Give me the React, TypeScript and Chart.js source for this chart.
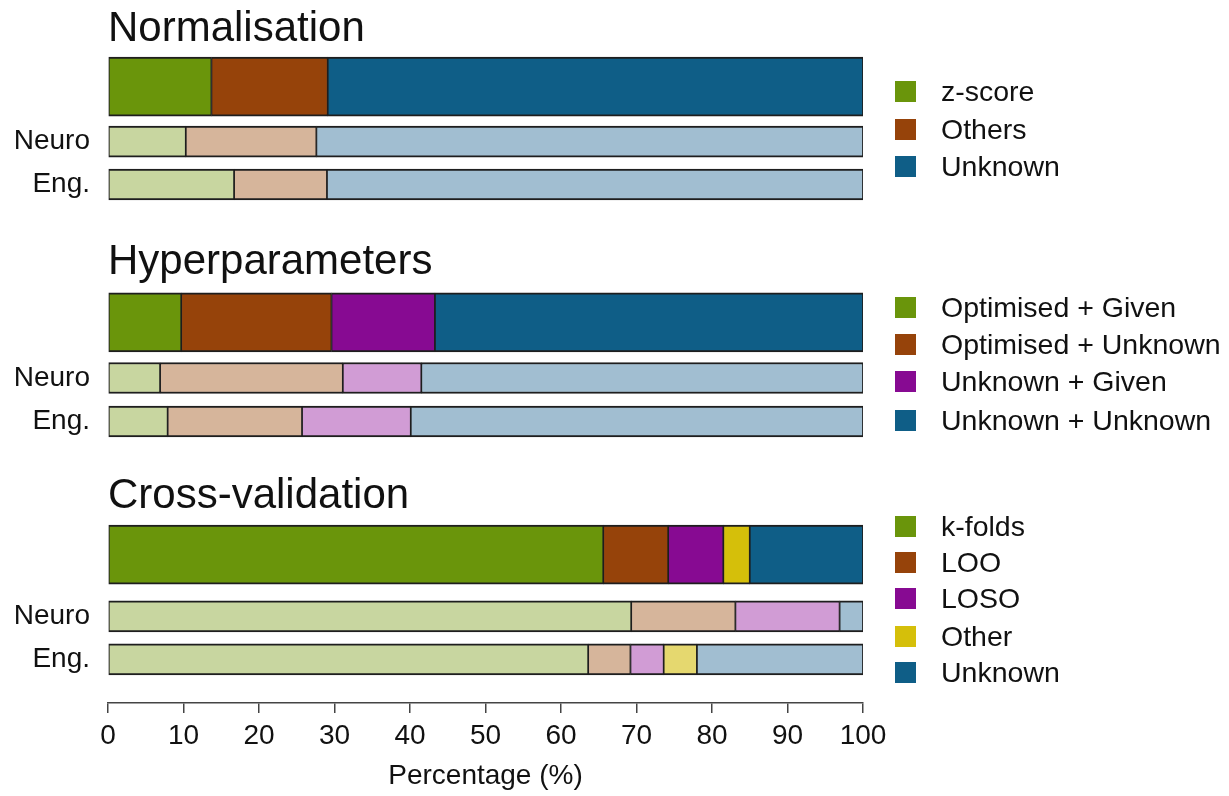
import React, { useEffect, useRef } from 'react';
import { Chart, registerables } from 'chart.js';

Chart.register(...registerables);

// ---------- data ----------
const ROW_LABELS = ['', 'Neuro', 'Eng.'];

const NORM_CATEGORIES = ['z-score', 'Others', 'Unknown'];
const NORM_ALL = [13.7, 15.4, 70.9];
const NORM_NEURO = [10.3, 17.3, 72.4];
const NORM_ENG = [16.7, 12.3, 71.0];

const HYPER_CATEGORIES = ['Optimised + Given', 'Optimised + Unknown', 'Unknown + Given', 'Unknown + Unknown'];
const HYPER_ALL = [9.7, 19.9, 13.7, 56.7];
const HYPER_NEURO = [6.9, 24.2, 10.4, 58.5];
const HYPER_ENG = [7.9, 17.8, 14.4, 59.9];

const CV_CATEGORIES = ['k-folds', 'LOO', 'LOSO', 'Other', 'Unknown'];
const CV_ALL = [65.6, 8.6, 7.3, 3.5, 15.0];
const CV_NEURO = [69.3, 13.8, 13.8, 0, 3.1];
const CV_ENG = [63.6, 5.6, 4.4, 4.4, 22.0];

const X_TICKS = [0, 10, 20, 30, 40, 50, 60, 70, 80, 90, 100];
const X_TITLE = 'Percentage (%)';

// ---------- styles ----------
const FONT = '"Liberation Sans", Arial, Helvetica, sans-serif';
const GREEN = '#6A950B', BROWN = '#96430A', PURPLE = '#870A92', YELLOW = '#D5BF0A', BLUE = '#0F5E87';
const L_GREEN = '#C8D6A0', L_BROWN = '#D6B59B', L_PURPLE = '#D19CD5', L_YELLOW = '#E5D86F', L_BLUE = '#A1BED1';

const PANELS = [
  { title: 'Normalisation', cats: NORM_CATEGORIES, all: NORM_ALL, neuro: NORM_NEURO, eng: NORM_ENG,
    dark: [GREEN, BROWN, BLUE], light: [L_GREEN, L_BROWN, L_BLUE] },
  { title: 'Hyperparameters', cats: HYPER_CATEGORIES, all: HYPER_ALL, neuro: HYPER_NEURO, eng: HYPER_ENG,
    dark: [GREEN, BROWN, PURPLE, BLUE], light: [L_GREEN, L_BROWN, L_PURPLE, L_BLUE] },
  { title: 'Cross-validation', cats: CV_CATEGORIES, all: CV_ALL, neuro: CV_NEURO, eng: CV_ENG,
    dark: [GREEN, BROWN, PURPLE, YELLOW, BLUE], light: [L_GREEN, L_BROWN, L_PURPLE, L_YELLOW, L_BLUE] },
];

// layout (row positions on the y scale, in px from the top of the plot area)
const ROW_POS = [
  [86.7, 141.7, 184.5],
  [322.3, 378, 421.5],
  [554.7, 616.3, 659.3],
];
const TITLE_BASELINE = [42, 275, 509];
const LEGEND_CENTERS = [
  [91, 129, 166],
  [307, 344, 381, 420],
  [526, 562, 598, 636, 672],
];
const PLOT_BOTTOM = 703;
const CANVAS_W = 900;
const CANVAS_H = 796;

export default function App() {
  const ref = useRef<HTMLCanvasElement>(null);

  useEffect(() => {
    const canvas = ref.current;
    if (!canvas) return;
    const datasets: any[] = [];
    const labelMap: Record<string, string> = {};
    const subTicks: number[] = [];
    PANELS.forEach((p, pi) => {
      const rows = ROW_POS[pi];
      labelMap[String(rows[1])] = ROW_LABELS[1];
      labelMap[String(rows[2])] = ROW_LABELS[2];
      subTicks.push(rows[1], rows[2]);
      p.cats.forEach((c, k) => {
        datasets.push({
          label: c,
          data: [{ x: p.all[k], y: rows[0] }],
          backgroundColor: p.dark[k],
          barThickness: 59,
        });
        const sub = [
          { x: p.neuro[k], y: rows[1] },
          { x: p.eng[k], y: rows[2] },
        ].filter((d) => d.x > 0);
        datasets.push({
          label: c + ' (by field)',
          data: sub,
          backgroundColor: p.light[k],
          barThickness: 31,
        });
      });
    });

    const chart = new Chart(canvas, {
      type: 'bar',
      data: { datasets },
      options: {
        indexAxis: 'y',
        responsive: false,
        animation: false,
        devicePixelRatio: 1,
        layout: { padding: { left: 0, right: CANVAS_W - 863, top: 0, bottom: 0 } },
        datasets: {
          bar: {
            borderColor: '#1E1E1E',
            borderWidth: { top: 2, bottom: 2, left: 1.2, right: 1.2 },
            borderSkipped: false,
          },
        },
        plugins: {
          legend: { display: false },
          tooltip: { enabled: false },
          title: { display: false },
        },
        scales: {
          x: {
            type: 'linear',
            stacked: true,
            min: 0,
            max: 100,
            offset: false,
            afterBuildTicks: (scale: any) => {
              scale.ticks = X_TICKS.map((v) => ({ value: v }));
            },
            afterFit: (scale: any) => {
              scale.height = CANVAS_H - PLOT_BOTTOM;
              scale.paddingLeft = 0;
              scale.paddingRight = 0;
            },
            grid: {
              drawOnChartArea: false,
              drawTicks: true,
              tickLength: 10,
              color: '#444',
              lineWidth: 1.5,
            },
            border: { display: true, color: '#444', width: 1.5 },
            ticks: {
              color: '#111',
              font: { family: FONT, size: 28 },
              padding: 6,
              maxRotation: 0,
              autoSkip: false,
            },
            title: {
              display: true,
              text: X_TITLE,
              color: '#111',
              font: { family: FONT, size: 28 },
              padding: { top: 0, bottom: 3 },
            },
          },
          y: {
            type: 'linear',
            stacked: true,
            reverse: true,
            offset: false,
            min: 0,
            max: PLOT_BOTTOM,
            afterBuildTicks: (scale: any) => {
              scale.ticks = subTicks.map((v) => ({ value: v }));
            },
            afterFit: (scale: any) => {
              scale.width = 108;
              scale.paddingTop = 0;
              scale.paddingBottom = 0;
            },
            grid: { display: false, drawTicks: false },
            border: { display: false },
            ticks: {
              color: '#111',
              font: { family: FONT, size: 28 },
              padding: 18,
              autoSkip: false,
              callback: (v: any) => labelMap[String(v)] ?? '',
            },
          },
        },
      },
    });
    return () => chart.destroy();
  }, []);

  return (
    <div style={{ position: 'absolute', left: 0, top: 0, width: 1229, height: 796, background: '#fff', fontFamily: FONT, color: '#111' }}>
      <canvas ref={ref} width={CANVAS_W} height={CANVAS_H} style={{ position: 'absolute', left: 0, top: 0 }} />
      {PANELS.map((p, pi) => (
        <div key={p.title}
          style={{ position: 'absolute', left: 108, top: TITLE_BASELINE[pi] - 35.6, fontSize: 42, lineHeight: '42px', whiteSpace: 'nowrap' }}>
          {p.title}
        </div>
      ))}
      {PANELS.map((p, pi) =>
        p.cats.map((c, k) => (
          <div key={p.title + c}
            style={{ position: 'absolute', left: 895, top: LEGEND_CENTERS[pi][k] - 14, height: 28, display: 'flex', alignItems: 'center', whiteSpace: 'nowrap' }}>
            <div style={{ width: 21, height: 21, background: p.dark[k], flex: 'none' }} />
            <div style={{ marginLeft: 25, fontSize: 28.5, lineHeight: '28px' }}>{c}</div>
          </div>
        ))
      )}
    </div>
  );
}
